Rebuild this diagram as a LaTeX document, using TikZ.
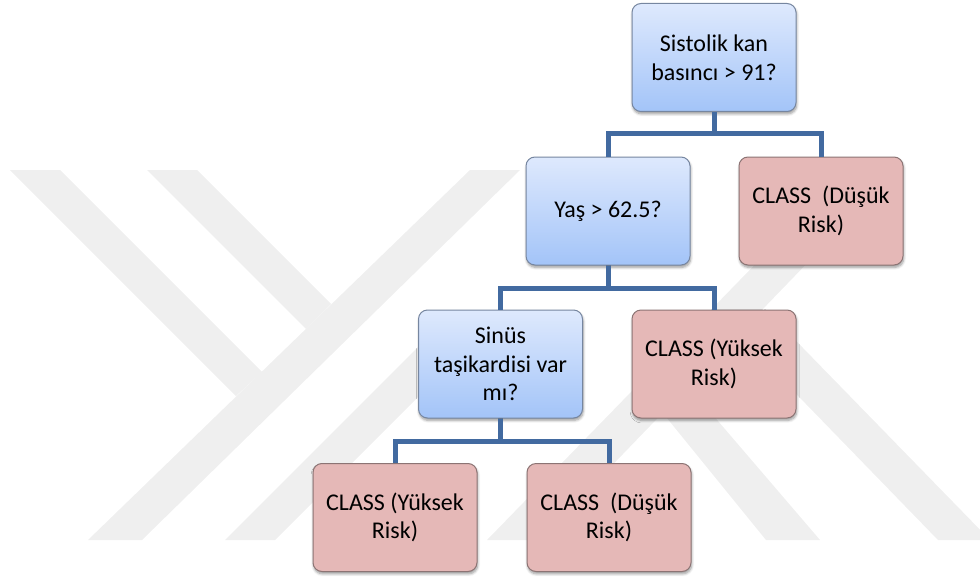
\documentclass[tikz,border=0pt]{standalone}
\usepackage{fontspec}
\setmainfont{Carlito}
\usetikzlibrary{shadows.blur}

\definecolor{wmgray}{RGB}{239,239,239}
\definecolor{qtop}{RGB}{222,233,253}
\definecolor{qbot}{RGB}{163,196,248}
\definecolor{qline}{RGB}{118,134,160}
\definecolor{leaffill}{RGB}{229,184,183}
\definecolor{leafline}{RGB}{140,116,116}
\definecolor{link}{RGB}{66,106,160}

% one drawing unit = one pixel = 0.75pt
\tikzset{
  treebox/.style={rounded corners=6.75pt, minimum width=123pt, minimum height=81pt,
    align=center, font=\fontsize{18pt}{21.5pt}\selectfont, inner sep=0pt,
    line width=0.75pt,
    blur shadow={shadow xshift=0.5pt, shadow yshift=-1.8pt, shadow blur steps=6,
      shadow blur extra rounding=1.2pt, shadow opacity=40}},
  question/.style={treebox, draw=qline, top color=qtop, bottom color=qbot},
  leaf/.style={treebox, draw=leafline, fill=leaffill},
  branch/.style={draw=link, line width=3.75pt, line join=miter},
  mark band/.style={fill=wmgray, draw=none}
}

\begin{document}
\begin{tikzpicture}[x=0.75pt, y=-0.75pt]
  \useasboundingbox (0,0) rectangle (980,581);

  % faint background emblem
  \fill[mark band] (470,170) -- (520,170) -- (142,540) -- (88,540) -- cycle;
  \fill[mark band] (10,170) -- (60,170) -- (262,372) -- (236,396) -- cycle;
  \fill[mark band] (147,170) -- (197,170) -- (331,304) -- (306,329) -- cycle;
  \fill[mark band] (225,540) -- (275,540) -- (485,330) -- (435,330) -- cycle;
  \fill[mark band] (847,170) -- (897,170) -- (540,540) -- (487,540) -- cycle;
  \fill[mark band] (662,412) -- (688,386) -- (820,540) -- (766,540) -- cycle;
  \fill[mark band] (739,335) -- (765,309) -- (990,540) -- (938,540) -- cycle;

  % connectors
  \coordinate (j1) at (714,134);
  \coordinate (j2) at (608,288);
  \coordinate (j3) at (500.5,441);
  \draw[branch] (714,111) -- (j1);
  \draw[branch] (608,265) -- (j2);
  \draw[branch] (500.5,418) -- (j3);

  % decision tree
  \node[question] (root)  at (714,57.5) {Sistolik kan\\basıncı > 91?};
  \node[question] (age)   at (608,211)  {Yaş > 62.5?};
  \node[leaf]     (low1)  at (821,211)  {CLASS\ \ (Düşük\\Risk)};
  \node[question] (sinus) at (500.5,364) {Sinüs\\taşikardisi var\\mı?};
  \node[leaf]     (high1) at (714,364)  {CLASS (Yüksek\\Risk)};
  \node[leaf]     (high2) at (395,517.5) {CLASS (Yüksek\\Risk)};
  \node[leaf]     (low2)  at (609,517.5) {CLASS\ \ (Düşük\\Risk)};

  \draw[branch] (root.south) -- (j1) -| (age.north);
  \draw[branch] (j1) -| (low1.north);
  \draw[branch] (age.south) -- (j2) -| (sinus.north);
  \draw[branch] (j2) -| (high1.north);
  \draw[branch] (sinus.south) -- (j3) -| (high2.north);
  \draw[branch] (j3) -| (low2.north);
\end{tikzpicture}
\end{document}
